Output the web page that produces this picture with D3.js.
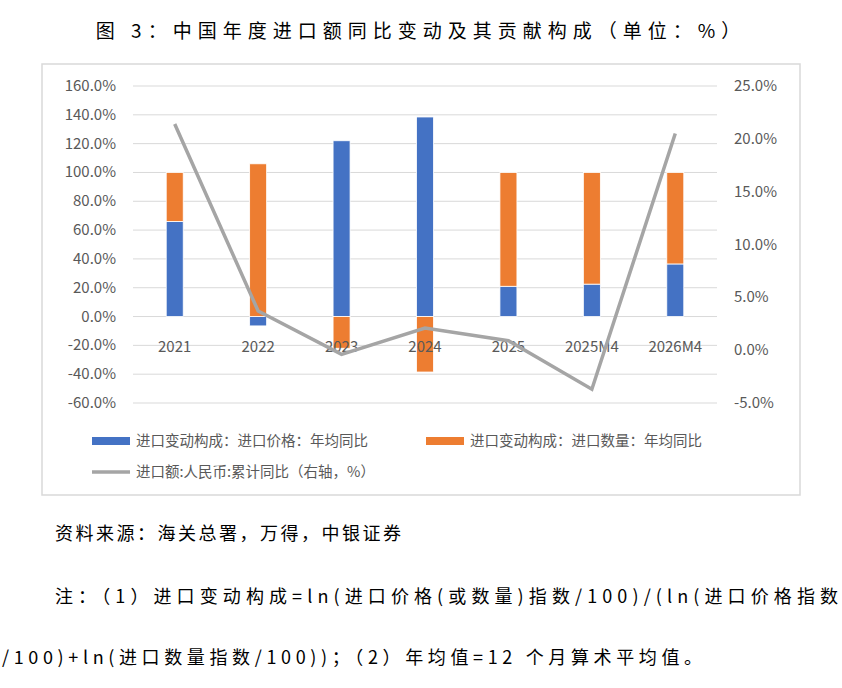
<!DOCTYPE html>
<html><head><meta charset="utf-8">
<script src="https://cdn.jsdelivr.net/npm/d3@7"></script>
<style>
body{margin:0;background:#fff;font-family:"Noto Sans CJK SC","Noto Sans",sans-serif;}
</style></head>
<body><div id="chart"></div>
<script>
// categories and series
var categories = ["2021","2022","2023","2024","2025","2025M4","2026M4"];
var priceContrib = [66, -6.5, 122, 138.5, 21, 22.5, 36.5];
var qtyContrib = [34, 106, -22, -38.5, 79, 77.5, 63.5];
var importYoY = [21.4, 3.7, -0.4, 2.1, 0.9, -3.7, 20.5];
var leftTicks = [-60,-40,-20,0,20,40,60,80,100,120,140,160];
var rightTicks = [-5,0,5,10,15,20,25];

var W = 842, H = 688;
var svg = d3.select("#chart").append("svg").attr("width", W).attr("height", H);

svg.append("text").attr("x", 421).attr("y", 38).attr("text-anchor","middle")
	.style("font-size","19px").style("letter-spacing","6px").text("图 3：中国年度进口额同比变动及其贡献构成（单位：%）");

svg.append("rect").attr("x",42).attr("y",64).attr("width",758).attr("height",431)
	.attr("fill","none").attr("stroke","#d9d9d9").attr("stroke-width",1.5);

var x = d3.scaleBand().domain(categories).range([133,717]);
var yL = d3.scaleLinear().domain([-60,160]).range([403,86]);
var yR = d3.scaleLinear().domain([-5,25]).range([403,86]);
var bw = 17;

// grid
svg.append("g").selectAll("line").data(leftTicks).join("line")
	.attr("x1",133).attr("x2",717).attr("y1",d=>yL(d)).attr("y2",d=>yL(d))
	.attr("stroke","#d9d9d9").attr("stroke-width",1);

var tickStyle = function(sel){ sel.style("font-size","15px").attr("fill","#595959"); };
svg.append("g").selectAll("text").data(leftTicks).join("text")
	.attr("x",116).attr("y",d=>yL(d)+5).attr("text-anchor","end").call(tickStyle)
	.text(d=>d.toFixed(1)+"%");
svg.append("g").selectAll("text").data(rightTicks).join("text")
	.attr("x",734).attr("y",d=>yR(d)+5).call(tickStyle)
	.text(d=>d.toFixed(1)+"%");

// bars: positive stack up from 0, negatives stack down
var cx = c => x(c) + x.bandwidth()/2;
function barData(){
	var out = [];
	categories.forEach(function(c,i){
		var pos = 0, neg = 0;
		[[priceContrib[i],"#4472c4"],[qtyContrib[i],"#ed7d31"]].forEach(function(s){
			var v = s[0], y0, y1;
			if(v >= 0){ y0 = pos; y1 = pos + v; pos = y1; }
			else { y0 = neg; y1 = neg + v; neg = y1; }
			out.push({c:c, y0:y0, y1:y1, color:s[1]});
		});
	});
	return out;
}
svg.append("g").selectAll("rect").data(barData()).join("rect")
	.attr("x",d=>cx(d.c)-bw/2).attr("width",bw)
	.attr("y",d=>yL(Math.max(d.y0,d.y1))).attr("height",d=>Math.abs(yL(d.y0)-yL(d.y1)))
	.attr("fill",d=>d.color).attr("stroke","#fff").attr("stroke-width",0.8);

// category labels
svg.append("g").selectAll("text").data(categories).join("text")
	.attr("x",cx).attr("y",352).attr("text-anchor","middle").call(tickStyle).text(d=>d);

// line
svg.append("path").datum(importYoY)
	.attr("d", d3.line().x((d,i)=>cx(categories[i])).y(d=>yR(d)))
	.attr("fill","none").attr("stroke","#a5a5a5").attr("stroke-width",3.5);

// legend
var lg = svg.append("g").style("font-size","14.5px").attr("fill","#595959");
lg.append("rect").attr("x",92).attr("y",437).attr("width",38).attr("height",8).attr("fill","#4472c4");
lg.append("text").attr("x",136).attr("y",446).text("进口变动构成：进口价格：年均同比");
lg.append("rect").attr("x",426).attr("y",437).attr("width",38).attr("height",8).attr("fill","#ed7d31");
lg.append("text").attr("x",470).attr("y",446).text("进口变动构成：进口数量：年均同比");
lg.append("line").attr("x1",92).attr("x2",130).attr("y1",472).attr("y2",472).attr("stroke","#a5a5a5").attr("stroke-width",3.5);
lg.append("text").attr("x",136).attr("y",477).text("进口额:人民币:累计同比（右轴，%）");

// notes
var nt = svg.append("g").style("font-size","18px").attr("fill","#000");
nt.append("text").attr("x",55).attr("y",540).style("letter-spacing","2.5px").text("资料来源：海关总署，万得，中银证券");
nt.append("text").attr("x",55).attr("y",603).attr("textLength",783).text("注：（1）进口变动构成=ln(进口价格(或数量)指数/100)/(ln(进口价格指数");
nt.append("text").attr("x",2).attr("y",664).attr("textLength",700).text("/100)+ln(进口数量指数/100))；（2）年均值=12 个月算术平均值。");
</script></body></html>
